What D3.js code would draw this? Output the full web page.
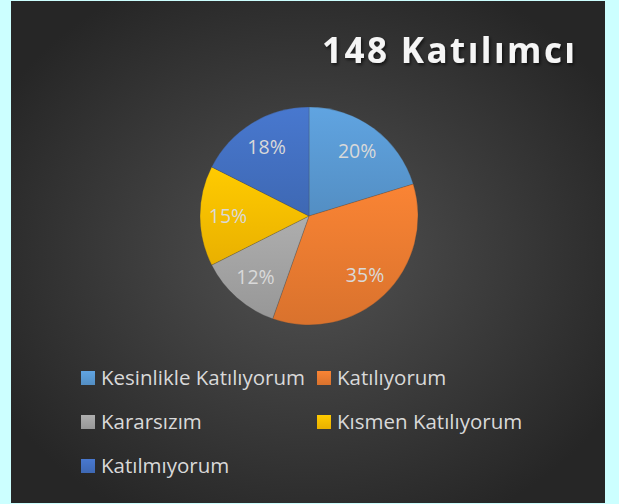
<!DOCTYPE html>
<html>
<head>
<meta charset="utf-8">
<script src="https://cdn.jsdelivr.net/npm/d3@7"></script>
<style>
  html, body { margin: 0; padding: 0; background: #ccffff; }
  svg { display: block; }
</style>
</head>
<body>
<svg id="chart"></svg>
<script>
// data
var categories = ["Kesinlikle Katılıyorum", "Katılıyorum", "Kararsızım", "Kısmen Katılıyorum", "Katılmıyorum"];
var counts = [30, 52, 18, 22, 26];
var colors = ["#5b9bd5", "#ed7d31", "#a5a5a5", "#ffc000", "#4472c4"];
var title = "148 Katılımcı";

var width = 619,
    height = 504;

var svg = d3.select("#chart")
    .attr("width", width)
    .attr("height", height);

var defs = svg.append("defs");

//-------------------
// BACKGROUND
//-------------------
var bg = defs.append("radialGradient")
    .attr("id", "bg")
    .attr("cx", "50%").attr("cy", "50%").attr("r", "60%");
bg.append("stop").attr("offset", "0%").attr("stop-color", "#525252");
bg.append("stop").attr("offset", "100%").attr("stop-color", "#262626");

svg.append("rect")
    .attr("x", 11).attr("y", 1)
    .attr("width", 594).attr("height", 502)
    .attr("fill", "url(#bg)");

var shadow = defs.append("filter").attr("id", "shadow")
    .attr("x", "-10%").attr("y", "-20%").attr("width", "120%").attr("height", "150%");
shadow.append("feDropShadow")
    .attr("dx", 1.5).attr("dy", 2).attr("stdDeviation", 1.5)
    .attr("flood-color", "#000").attr("flood-opacity", 0.6);

//-------------------
// TITLE
//-------------------
svg.append("text")
    .attr("x", 322).attr("y", 63)
    .attr("textLength", 253)
    .attr("lengthAdjust", "spacing")
    .attr("font-family", "'Open Sans', sans-serif")
    .attr("font-weight", "bold")
    .attr("font-size", 35)
    .attr("fill", "#f5f5f5")
    .attr("filter", "url(#shadow)")
    .text(title);

//-------------------
// PIE
//-------------------
var cx = 309, cy = 216, radius = 109;
var total = d3.sum(counts);

categories.forEach(function (c, i) {
    var g = defs.append("linearGradient")
        .attr("id", "slice" + i)
        .attr("x1", 0).attr("y1", 0).attr("x2", 0).attr("y2", 1);
    g.append("stop").attr("offset", "0%").attr("stop-color", d3.color(colors[i]).brighter(0.15));
    g.append("stop").attr("offset", "100%").attr("stop-color", d3.color(colors[i]).darker(0.25));
});

var pie = d3.pie().sort(null).value(function (d) { return d; });
var arc = d3.arc().innerRadius(0).outerRadius(radius);
var labelArc = d3.arc().innerRadius(81).outerRadius(81);

var pieG = svg.append("g").attr("transform", "translate(" + cx + "," + cy + ")");

pieG.selectAll("path.slice")
    .data(pie(counts))
    .enter()
    .append("path")
    .attr("class", "slice")
    .attr("d", arc)
    .attr("fill", function (d, i) { return "url(#slice" + i + ")"; })
    .attr("stroke", "#404040")
    .attr("stroke-width", 0.5)
    .attr("stroke-opacity", 0.5);

pieG.selectAll("text.pct")
    .data(pie(counts))
    .enter()
    .append("text")
    .attr("class", "pct")
    .attr("transform", function (d) { return "translate(" + labelArc.centroid(d) + ")"; })
    .attr("text-anchor", "middle")
    .attr("dy", "0.36em")
    .attr("font-family", "'Open Sans', sans-serif")
    .attr("font-size", 19.5)
    .attr("fill", "#d9d9d9")
    .text(function (d) { return Math.round(d.value / total * 100) + "%"; });

//-------------------
// LEGEND
//-------------------
var colX = [81, 317],
    rowY = [385, 429, 473];

var legend = svg.selectAll("g.legend")
    .data(categories)
    .enter()
    .append("g")
    .attr("class", "legend")
    .attr("transform", function (d, i) {
        return "translate(" + colX[i % 2] + "," + rowY[Math.floor(i / 2)] + ")";
    });

legend.append("rect")
    .attr("x", 0).attr("y", -14)
    .attr("width", 14).attr("height", 14)
    .attr("fill", function (d, i) { return "url(#slice" + i + ")"; });

legend.append("text")
    .attr("x", 20).attr("y", 0)
    .attr("font-family", "'Open Sans', sans-serif")
    .attr("font-size", 20.5)
    .attr("fill", "#d9d9d9")
    .text(function (d) { return d; });
</script>
</body>
</html>
